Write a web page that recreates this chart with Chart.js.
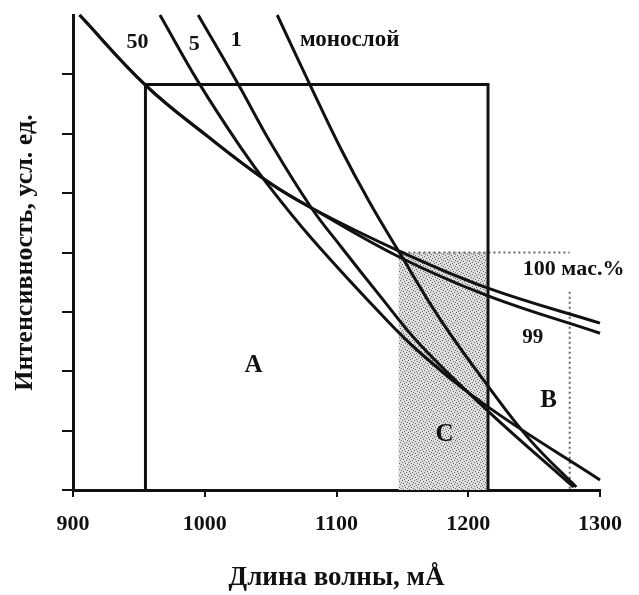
<!DOCTYPE html>
<html>
<head>
<meta charset="utf-8">
<script src="https://cdn.jsdelivr.net/npm/chart.js"></script>
<style>
  html, body { margin: 0; padding: 0; background: #fff; }
  #wrap { width: 639px; height: 595px; }
</style>
</head>
<body>
<div id="wrap"><canvas id="spectraChart"></canvas></div>
<script>
// длина волны (мÅ) и интенсивность (усл. ед.)
const wl100 = [905, 955, 1002, 1048, 1081, 1148, 1215, 1300];
const int100 = [8.0, 6.82, 5.96, 5.19, 4.75, 4.02, 3.40, 2.81];

const wl99 = [905, 955, 1002, 1048, 1081, 1148, 1215, 1300];
const int99 = [8.0, 6.82, 5.96, 5.19, 4.75, 3.92, 3.27, 2.64];

const wl5 = [966, 996, 1027, 1048, 1081, 1133, 1163, 1215, 1300];
const int5 = [8.0, 6.84, 5.78, 5.14, 4.24, 2.98, 2.32, 1.40, 0.17];

const wl1 = [995, 1025, 1051, 1081, 1103, 1133, 1163, 1215, 1280];
const int1 = [8.0, 6.85, 5.81, 4.75, 4.11, 3.27, 2.46, 1.33, 0.05];

const wlMono = [1055, 1080, 1103, 1125, 1148, 1178, 1215, 1247, 1282];
const intMono = [8.0, 6.82, 5.76, 4.85, 3.99, 2.90, 1.75, 0.84, 0.05];

// области A, B, C
const rectX = [955, 955, 1215, 1215];
const rectY = [0, 6.83, 6.83, 0];
const shadeX = [1147, 1215];
const shadeY = [4, 4];
const dotTopX = [1147, 1277];
const dotTopY = [4, 4];
const dotRightX = [1277, 1277];
const dotRightY = [3.34, 0];

const xTicks = [900, 1000, 1100, 1200, 1300];
const yTicks = [0, 1, 2, 3, 4, 5, 6, 7];

const pts = (xs, ys) => xs.map((x, i) => ({ x: x, y: ys[i] }));

function stipple() {
    const c = document.createElement('canvas');
    c.width = 6; c.height = 6;
    const g = c.getContext('2d');
    g.fillStyle = '#dedede';
    g.fillRect(0, 0, 6, 6);
    g.fillStyle = '#666';
    [[0, 0], [3, 1], [1, 3], [4, 4], [5, 2], [2, 5]].forEach(p => g.fillRect(p[0], p[1], 1, 1));
    return g.createPattern(c, 'repeat');
}

const serif = "'Liberation Serif', 'Times New Roman', serif";

function curve(xs, ys) {
    return {
        data: pts(xs, ys),
        borderColor: '#111',
        borderWidth: 3,
        pointRadius: 0,
        fill: false,
        tension: 0.4,
        clip: false
    };
}

// подписи кривых и областей
const labelsPlugin = {
    id: 'curveLabels',
    afterDatasetsDraw(chart) {
        const { ctx, scales: { x, y } } = chart;
        const items = [
            ['50', 949, 7.54, 22],
            ['5', 992, 7.51, 22],
            ['1', 1024, 7.58, 22],
            ['монослой', 1110, 7.58, 23],
            ['100 мас.%', 1280, 3.71, 22],
            ['99', 1249, 2.56, 21],
            ['A', 1037, 2.09, 25],
            ['B', 1261, 1.51, 25],
            ['C', 1182, 0.94, 25]
        ];
        ctx.save();
        ctx.fillStyle = '#111';
        ctx.textAlign = 'center';
        ctx.textBaseline = 'middle';
        items.forEach(([t, vx, vy, size]) => {
            ctx.font = 'bold ' + size + 'px ' + serif;
            ctx.fillText(t, x.getPixelForValue(vx), y.getPixelForValue(vy));
        });
        ctx.restore();
    }
};

new Chart(document.getElementById('spectraChart'), {
    type: 'line',
    data: {
        datasets: [
            curve(wl100, int100),
            curve(wl99, int99),
            curve(wl5, int5),
            curve(wl1, int1),
            curve(wlMono, intMono),
            {
                data: pts(rectX, rectY),
                borderColor: '#111',
                borderWidth: 3,
                pointRadius: 0,
                tension: 0,
                fill: false
            },
            {
                data: pts(dotTopX, dotTopY),
                borderColor: '#666',
                borderWidth: 2,
                borderDash: [2, 3],
                pointRadius: 0,
                fill: false
            },
            {
                data: pts(dotRightX, dotRightY),
                borderColor: '#666',
                borderWidth: 2,
                borderDash: [2, 3],
                pointRadius: 0,
                fill: false
            },
            {
                data: pts(shadeX, shadeY),
                borderWidth: 0,
                pointRadius: 0,
                backgroundColor: stipple(),
                fill: 'origin'
            }
        ]
    },
    options: {
        responsive: true,
        maintainAspectRatio: false,
        animation: false,
        layout: { padding: { top: 15, right: 39, left: 0, bottom: 0 } },
        plugins: {
            legend: { display: false },
            tooltip: { enabled: false }
        },
        scales: {
            x: {
                type: 'linear',
                min: 900,
                max: 1300,
                afterFit: s => { s.height = 105; },
                afterBuildTicks: s => { s.ticks = xTicks.map(v => ({ value: v })); },
                grid: { drawOnChartArea: false, drawTicks: true, tickLength: 7, color: '#111', lineWidth: 2 },
                border: { color: '#111', width: 3 },
                ticks: {
                    color: '#111',
                    padding: 14,
                    maxRotation: 0,
                    callback: v => String(v),
                    font: { family: serif, size: 22, weight: 'bold' }
                },
                title: {
                    display: true,
                    text: 'Длина волны, мÅ',
                    color: '#111',
                    padding: { bottom: 1 },
                    font: { family: serif, size: 27, weight: 'bold' }
                }
            },
            y: {
                min: 0,
                max: 8,
                afterFit: s => { s.width = 73; },
                afterBuildTicks: s => { s.ticks = yTicks.map(v => ({ value: v })); },
                grid: { drawOnChartArea: false, drawTicks: true, tickLength: 11, color: '#111', lineWidth: 2 },
                border: { color: '#111', width: 3 },
                ticks: { callback: () => '' },
                title: {
                    display: true,
                    text: 'Интенсивность, усл. ед.',
                    color: '#111',
                    padding: { top: 10 },
                    font: { family: serif, size: 26, weight: 'bold' }
                }
            }
        }
    },
    plugins: [labelsPlugin]
});
</script>
</body>
</html>
